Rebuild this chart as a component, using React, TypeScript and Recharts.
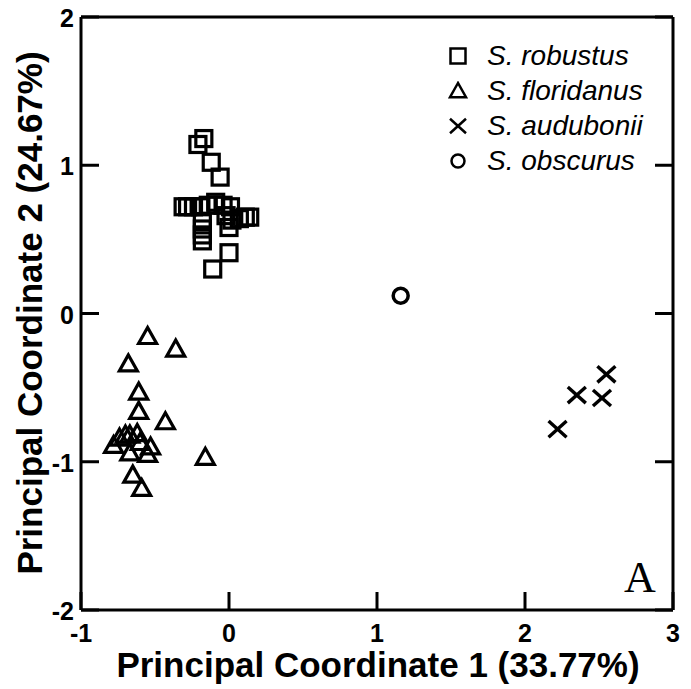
import { ScatterChart, Scatter, XAxis, YAxis, Legend } from 'recharts';

const xTicks = [-1, 0, 1, 2, 3];
const yTicks = [-2, -1, 0, 1, 2];

const robustus = [
  [-0.21, 1.14], [-0.17, 1.18], [-0.12, 1.02], [-0.06, 0.92],
  [-0.31, 0.72], [-0.28, 0.72], [-0.24, 0.72], [-0.19, 0.72], [-0.14, 0.73], [-0.09, 0.75],
  [-0.04, 0.73], [0.01, 0.72], [-0.02, 0.66], [0.02, 0.63], [0.07, 0.64], [0.11, 0.65], [0.14, 0.65],
  [-0.18, 0.62], [-0.18, 0.57], [-0.18, 0.53], [-0.18, 0.49], [0.0, 0.58], [0.0, 0.41], [-0.11, 0.30],
];
const floridanus = [
  [-0.55, -0.155], [-0.36, -0.24], [-0.68, -0.34], [-0.61, -0.53], [-0.61, -0.66], [-0.43, -0.73],
  [-0.78, -0.89], [-0.74, -0.84], [-0.70, -0.82], [-0.67, -0.82], [-0.62, -0.81], [-0.60, -0.87],
  [-0.53, -0.90], [-0.67, -0.94], [-0.55, -0.95], [-0.16, -0.97], [-0.65, -1.09], [-0.59, -1.18],
];
const audubonii = [[2.55, -0.41], [2.35, -0.55], [2.52, -0.57], [2.22, -0.78]];
const obscurus = [[1.16, 0.12]];

const toPts = (arr: number[][]) => arr.map(([x, y]) => ({ x, y }));

const INK = '#000';
const labelFont = '"Liberation Sans", Arial, sans-serif';

const Square = ({ cx, cy, s = 8, w = 3.2 }: any) => (
  <rect x={cx - s} y={cy - s} width={s * 2} height={s * 2} fill="none" stroke={INK} strokeWidth={w} />
);
const Triangle = ({ cx, cy, s = 9, w = 3.2 }: any) => (
  <polygon
    points={`${cx},${cy - s} ${cx - s},${cy + s * 0.78} ${cx + s},${cy + s * 0.78}`}
    fill="none" stroke={INK} strokeWidth={w}
  />
);
const Cross = ({ cx, cy, s = 9, w = 3.4 }: any) => (
  <g stroke={INK} strokeWidth={w}>
    <line x1={cx - s} y1={cy - s * 0.9} x2={cx + s} y2={cy + s * 0.9} />
    <line x1={cx - s} y1={cy + s * 0.9} x2={cx + s} y2={cy - s * 0.9} />
  </g>
);
const Ring = ({ cx, cy, s = 7.5, w = 3.5 }: any) => (
  <circle cx={cx} cy={cy} r={s} fill="none" stroke={INK} strokeWidth={w} />
);

const TickLabel = ({ x, y, anchor, children }: any) => (
  <text
    x={x} y={y} textAnchor={anchor} dominantBaseline="central"
    fontFamily={labelFont} fontWeight={700} fontSize={25} fill={INK}
    style={{ fontFamily: labelFont, fontWeight: 700, fontSize: '25px' }}
  >
    {children}
  </text>
);

const BottomTick = ({ x, y, payload }: any) => (
  <g>
    <line x1={x} x2={x} y1={y} y2={y - 18} stroke={INK} strokeWidth={3} />
    <TickLabel x={x} y={y + 23} anchor="middle">{payload.value}</TickLabel>
  </g>
);
const LeftTick = ({ x, y, payload }: any) => (
  <g>
    <line x1={x} x2={x + 18} y1={y} y2={y} stroke={INK} strokeWidth={3} />
    <TickLabel x={x - 7} y={y + 1} anchor="end">{payload.value}</TickLabel>
  </g>
);
const TopTick = ({ x, y }: any) => <line x1={x} x2={x} y1={y} y2={y + 18} stroke={INK} strokeWidth={3} />;
const RightTick = ({ x, y }: any) => <line x1={x} x2={x - 18} y1={y} y2={y} stroke={INK} strokeWidth={3} />;

const legendRows = [
  { name: 'S. robustus', Mark: Square, s: 7.5 },
  { name: 'S. floridanus', Mark: Triangle, s: 8 },
  { name: 'S. audubonii', Mark: Cross, s: 8 },
  { name: 'S. obscurus', Mark: Ring, s: 6.5 },
];

const LegendBox = () => (
  <div>
    {legendRows.map(({ name, Mark, s }) => (
      <div key={name} style={{ display: 'flex', alignItems: 'center', height: 35 }}>
        <svg width={20} height={20}>
          <Mark cx={10} cy={10} s={s} w={2.5} />
        </svg>
        <span style={{ marginLeft: 19, fontFamily: labelFont, fontStyle: 'italic', fontSize: 28, color: INK, lineHeight: '35px' }}>
          {name}
        </span>
      </div>
    ))}
  </div>
);

export default function App() {
  return (
    <div style={{ position: 'absolute', left: 0, top: 0, width: 691, height: 689, background: '#fff' }}>
      <ScatterChart width={691} height={689} margin={{ top: 16, right: 17, bottom: 78, left: 80 }}>
        <XAxis
          xAxisId={0} type="number" dataKey="x" domain={[-1, 3]} ticks={xTicks} allowDataOverflow
          height={1} interval={0} tickSize={0} tickMargin={0} tickLine={false}
          axisLine={{ stroke: INK, strokeWidth: 3 }} tick={<BottomTick />}
        />
        <XAxis
          xAxisId="top" orientation="top" type="number" domain={[-1, 3]} ticks={xTicks} allowDataOverflow
          height={1} interval={0} tickSize={0} tickMargin={0} tickLine={false}
          axisLine={{ stroke: INK, strokeWidth: 3 }} tick={<TopTick />}
        />
        <YAxis
          yAxisId={0} type="number" dataKey="y" domain={[-2, 2]} ticks={yTicks} allowDataOverflow
          width={1} interval={0} tickSize={0} tickMargin={0} tickLine={false}
          axisLine={{ stroke: INK, strokeWidth: 3 }} tick={<LeftTick />}
        />
        <YAxis
          yAxisId="right" orientation="right" type="number" domain={[-2, 2]} ticks={yTicks} allowDataOverflow
          width={1} interval={0} tickSize={0} tickMargin={0} tickLine={false}
          axisLine={{ stroke: INK, strokeWidth: 3 }} tick={<RightTick />}
        />
        <Legend
          layout="horizontal" verticalAlign="middle" align="center"
          wrapperStyle={{ left: 448, top: 38, width: 'auto', height: 'auto' }}
          content={<LegendBox />}
        />
        <Scatter name="S. robustus" data={toPts(robustus)} shape={(p: any) => <Square cx={p.cx} cy={p.cy} />} isAnimationActive={false} />
        <Scatter name="S. floridanus" data={toPts(floridanus)} shape={(p: any) => <Triangle cx={p.cx} cy={p.cy} />} isAnimationActive={false} />
        <Scatter name="S. audubonii" data={toPts(audubonii)} shape={(p: any) => <Cross cx={p.cx} cy={p.cy} />} isAnimationActive={false} />
        <Scatter name="S. obscurus" data={toPts(obscurus)} shape={(p: any) => <Ring cx={p.cx} cy={p.cy} />} isAnimationActive={false} />
      </ScatterChart>
      <div style={{ position: 'absolute', left: 0, width: 756, top: 647, textAlign: 'center', fontFamily: labelFont, fontWeight: 700, fontSize: 35, lineHeight: '35px', color: INK, whiteSpace: 'nowrap' }}>
        Principal Coordinate 1 (33.77%)
      </div>
      <div style={{ position: 'absolute', left: 29, top: 313, width: 0, height: 0 }}>
        <div style={{ position: 'absolute', left: 0, top: 0, transform: 'translate(-50%, -50%) rotate(-90deg)', fontFamily: labelFont, fontWeight: 700, fontSize: 35, lineHeight: '35px', color: INK, whiteSpace: 'nowrap' }}>
          Principal Coordinate 2 (24.67%)
        </div>
      </div>
      <div style={{ position: 'absolute', left: 624, top: 553, fontFamily: '"Liberation Serif", "Times New Roman", serif', fontSize: 44, lineHeight: '50px', color: INK }}>
        A
      </div>
    </div>
  );
}
